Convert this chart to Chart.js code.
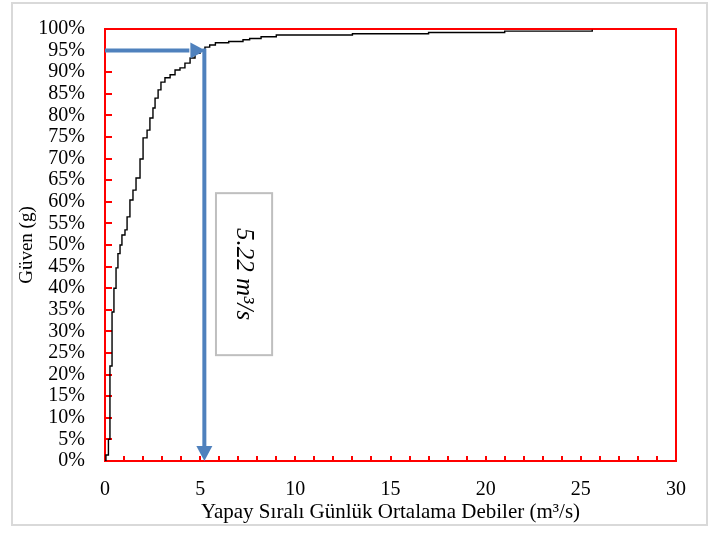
<!DOCTYPE html>
<html>
<head>
<meta charset="utf-8">
<script src="https://cdn.jsdelivr.net/npm/chart.js@4"></script>
<style>
  html, body { margin: 0; padding: 0; background: #fff; }
</style>
</head>
<body>
<canvas id="chart" width="723" height="534"></canvas>
<script>
// cumulative curve (flow in m3/s, confidence in %)
const flowValues = [0, 0.05, 0.18, 0.26, 0.37, 0.47, 0.58, 0.68, 0.79, 0.89, 1.05, 1.16, 1.31, 1.47, 1.63, 1.84, 2.0, 2.21, 2.36, 2.52, 2.63, 2.79, 2.94, 3.15, 3.42, 3.68, 3.94, 4.2, 4.47, 4.73, 4.99, 5.25, 5.5, 5.8, 6.5, 7.25, 7.6, 8.2, 9.0, 13, 17, 21, 25.6];
const confidenceValues = [0, 1.4, 5, 22, 34.5, 40, 44.7, 48, 50, 52.3, 53.5, 56.5, 60.4, 62.7, 65.5, 69.9, 74.8, 76.6, 79.4, 81.7, 84, 85.9, 87.7, 88.7, 89.4, 90.5, 91, 92.1, 93.3, 94.4, 95.1, 95.8, 96.3, 96.8, 97.1, 97.5, 97.8, 98.2, 98.6, 98.9, 99.2, 99.5, 99.8];

const xTickValues = [0, 5, 10, 15, 20, 25, 30];
const yTickValues = [0, 5, 10, 15, 20, 25, 30, 35, 40, 45, 50, 55, 60, 65, 70, 75, 80, 85, 90, 95, 100];
const xMinorTicks = [0, 1, 2, 3, 4, 5, 6, 7, 8, 9, 10, 11, 12, 13, 14, 15, 16, 17, 18, 19, 20, 21, 22, 23, 24, 25, 26, 27, 28, 29, 30];

// the marked reading: 95 % confidence at 5.22 m3/s
const markFlow = 5.22;
const markConfidence = 95;
const markLabel = '5.22 m³/s';
const labelBox = { x0: 5.83, x1: 8.78, y0: 24.5, y1: 62 };

const serif = '"Liberation Serif", "Times New Roman", serif';

const points = flowValues.map((q, i) => ({ x: q, y: confidenceValues[i] }));

const decorations = {
  id: 'decorations',
  beforeDraw(chart) {
    const ctx = chart.ctx;
    ctx.save();
    ctx.fillStyle = '#fff';
    ctx.fillRect(0, 0, chart.width, chart.height);
    ctx.strokeStyle = '#d9d9d9';
    ctx.lineWidth = 2;
    ctx.strokeRect(12, 3, 695, 522);
    ctx.restore();
  },
  beforeDatasetsDraw(chart) {
    const { ctx, chartArea: a, scales } = chart;
    ctx.save();
    ctx.strokeStyle = '#ff0000';
    ctx.lineWidth = 2;
    ctx.strokeRect(a.left, a.top, a.right - a.left, a.bottom - a.top);
    ctx.beginPath();
    yTickValues.forEach(v => {
      const y = Math.round(scales.y.getPixelForValue(v));
      ctx.moveTo(a.left, y);
      ctx.lineTo(a.left + 7, y);
    });
    xMinorTicks.forEach(v => {
      const x = Math.round(scales.x.getPixelForValue(v));
      ctx.moveTo(x, a.bottom);
      ctx.lineTo(x, a.bottom - 5);
    });
    ctx.stroke();
    ctx.restore();
  },
  afterDatasetsDraw(chart) {
    const { ctx, chartArea: a, scales } = chart;
    const px = scales.x.getPixelForValue(markFlow);
    const py = scales.y.getPixelForValue(markConfidence);
    const y0 = scales.y.getPixelForValue(0);
    const head = 15, half = 8;
    ctx.save();
    ctx.strokeStyle = '#4f81bd';
    ctx.fillStyle = '#4f81bd';
    ctx.lineWidth = 4;
    ctx.beginPath();
    ctx.moveTo(a.left, py);
    ctx.lineTo(px - head, py);
    ctx.moveTo(px, py - 2);
    ctx.lineTo(px, y0 - head);
    ctx.stroke();
    ctx.beginPath();
    ctx.moveTo(px + 1, py);
    ctx.lineTo(px + 1 - head, py - half);
    ctx.lineTo(px + 1 - head, py + half);
    ctx.closePath();
    ctx.fill();
    ctx.beginPath();
    ctx.moveTo(px, y0);
    ctx.lineTo(px - half, y0 - head);
    ctx.lineTo(px + half, y0 - head);
    ctx.closePath();
    ctx.fill();

    // text box
    const bx0 = scales.x.getPixelForValue(labelBox.x0);
    const bx1 = scales.x.getPixelForValue(labelBox.x1);
    const by0 = scales.y.getPixelForValue(labelBox.y1);
    const by1 = scales.y.getPixelForValue(labelBox.y0);
    ctx.fillStyle = '#fff';
    ctx.fillRect(bx0, by0, bx1 - bx0, by1 - by0);
    ctx.strokeStyle = '#bfbfbf';
    ctx.lineWidth = 2;
    ctx.strokeRect(bx0, by0, bx1 - bx0, by1 - by0);
    ctx.translate((bx0 + bx1) / 2, (by0 + by1) / 2);
    ctx.rotate(Math.PI / 2);
    ctx.fillStyle = '#000';
    ctx.font = 'italic 25px ' + serif;
    ctx.textAlign = 'center';
    ctx.textBaseline = 'middle';
    ctx.fillText(markLabel, 0, 0);
    ctx.restore();
  }
};

new Chart(document.getElementById('chart'), {
  type: 'scatter',
  data: {
    datasets: [{
      data: points,
      showLine: true,
      stepped: true,
      borderColor: '#000',
      borderWidth: 1.4,
      pointRadius: 0,
      fill: false
    }]
  },
  options: {
    responsive: false,
    animation: false,
    layout: { padding: { top: 29, right: 47, left: 0, bottom: 0 } },
    plugins: {
      legend: { display: false },
      tooltip: { enabled: false }
    },
    scales: {
      x: {
        type: 'linear',
        min: 0,
        max: 30,
        afterBuildTicks: s => { s.ticks = xTickValues.map(v => ({ value: v })); },
        afterFit: s => { s.height = 73; },
        grid: { display: false },
        border: { display: false },
        ticks: { color: '#000', font: { family: serif, size: 20 }, padding: 9, maxRotation: 0 },
        title: {
          display: true,
          text: 'Yapay Sıralı Günlük Ortalama Debiler (m³/s)',
          color: '#000',
          font: { family: serif, size: 21 },
          padding: { top: 0, bottom: 9 }
        }
      },
      y: {
        type: 'linear',
        min: 0,
        max: 100,
        afterBuildTicks: s => { s.ticks = yTickValues.map(v => ({ value: v })); },
        afterFit: s => { s.width = 105; },
        grid: { display: false },
        border: { display: false },
        ticks: {
          color: '#000',
          font: { family: serif, size: 20 },
          padding: 12,
          autoSkip: false,
          callback: v => v + '%'
        },
        title: {
          display: true,
          text: 'Güven (g)',
          color: '#000',
          font: { family: serif, size: 19 },
          padding: { top: 16, bottom: 0 }
        }
      }
    }
  },
  plugins: [decorations]
});
</script>
</body>
</html>
